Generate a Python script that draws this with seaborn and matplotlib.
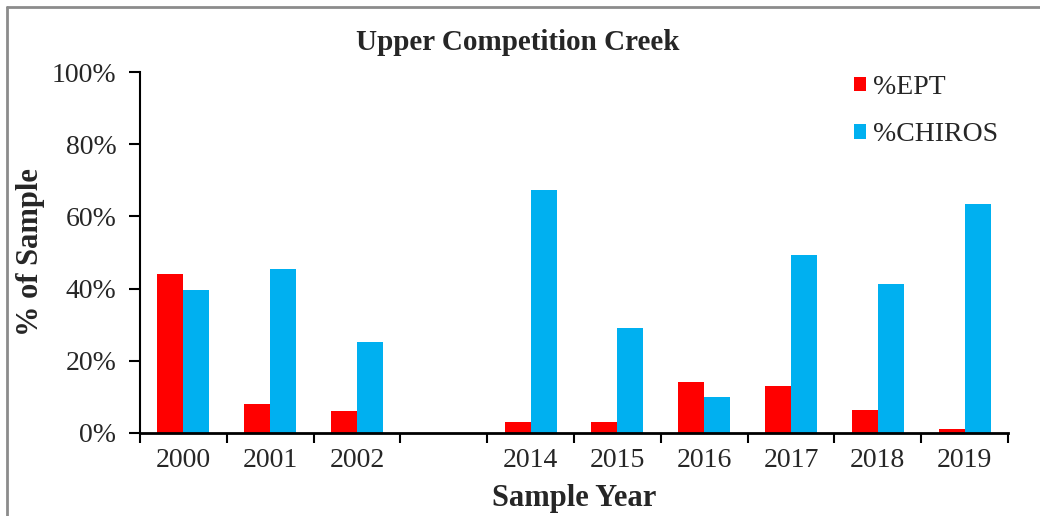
import numpy as np
import pandas as pd
import matplotlib
matplotlib.use("Agg")
import matplotlib.pyplot as plt
from matplotlib.lines import Line2D
from matplotlib.ticker import FuncFormatter
import seaborn as sns

# chart data (values in percent)
years = ["2000", "2001", "2002", " ", "2014", "2015", "2016", "2017", "2018", "2019"]
ept = [44.0, 8.1, 6.2, np.nan, 3.1, 3.1, 14.2, 13.1, 6.3, 1.1]
chiros = [39.7, 45.3, 25.2, np.nan, 67.3, 29.2, 10.1, 49.3, 41.3, 63.4]
series_names = ["%EPT", "%CHIROS"]
colors = ["#FF0000", "#00B0F0"]

df = pd.DataFrame({"Year": years, "%EPT": ept, "%CHIROS": chiros})
long_df = df.melt(id_vars="Year", var_name="Series", value_name="Pct").dropna()

sns.set_style("ticks")
plt.rcParams["font.family"] = ["Liberation Serif", "DejaVu Serif"]

W, H = 1040, 516
fig = plt.figure(figsize=(W / 100, H / 100), dpi=100)
ax = fig.add_axes([140 / W, 1 - 433 / H, 868 / W, 361 / H])

sns.barplot(data=long_df, x="Year", y="Pct", hue="Series", order=years,
            hue_order=series_names, palette=dict(zip(series_names, colors)),
            width=0.6, linewidth=0, saturation=1, ax=ax)

ax.set_xlim(-0.5, len(years) - 0.5)
ax.set_ylim(0, 100)
ax.set_yticks(np.arange(0, 101, 20))
ax.yaxis.set_major_formatter(FuncFormatter(lambda v, p: f"{v:.0f}%"))

# category labels centred, tick marks on category boundaries
ax.set_xticks(range(len(years)))
ax.set_xticklabels(years)
ax.set_xticks(np.arange(-0.5, len(years), 1.0), minor=True)
ax.tick_params(axis="x", which="major", length=0, pad=11, labelsize=20)
ax.tick_params(axis="x", which="minor", length=7, width=1.5, direction="out", color="black")
ax.tick_params(axis="y", length=8, width=1.5, direction="out", pad=9, labelsize=20, color="black")

sns.despine(ax=ax)
ax.spines["left"].set_linewidth(1.5)
ax.spines["bottom"].set_linewidth(2)
ax.spines["left"].set_color("black")
ax.spines["bottom"].set_color("black")
ax.set_xlabel("")
ax.set_ylabel("")

handles, labels = ax.get_legend_handles_labels()
ax.legend(handles, labels, loc="upper left", bbox_to_anchor=(840 / W, 1 - 61 / H),
          bbox_transform=fig.transFigure, frameon=False, fontsize=20,
          borderpad=0, labelspacing=0.8, handlelength=0.45, handleheight=0.45,
          handletextpad=0.25)

fig.text(518 / W, 1 - 50 / H, "Upper Competition Creek", ha="center", va="baseline",
         fontsize=21, fontweight="bold")
fig.text(574 / W, 1 - 506 / H, "Sample Year", ha="center", va="baseline",
         fontsize=22, fontweight="bold")
fig.text(31 / W, 1 - 252 / H, "% of Sample", ha="center", va="center", rotation=90,
         fontsize=22, fontweight="bold")

# grey frame lines at left and top edge
fig.add_artist(Line2D([7 / W, 7 / W], [0, 1 - 7 / H], color="#8c8c8c", lw=2,
                      transform=fig.transFigure))
fig.add_artist(Line2D([7 / W, 1], [1 - 7 / H, 1 - 7 / H], color="#8c8c8c", lw=2,
                      transform=fig.transFigure))

fig.savefig("out.png", dpi=100, facecolor="white")
